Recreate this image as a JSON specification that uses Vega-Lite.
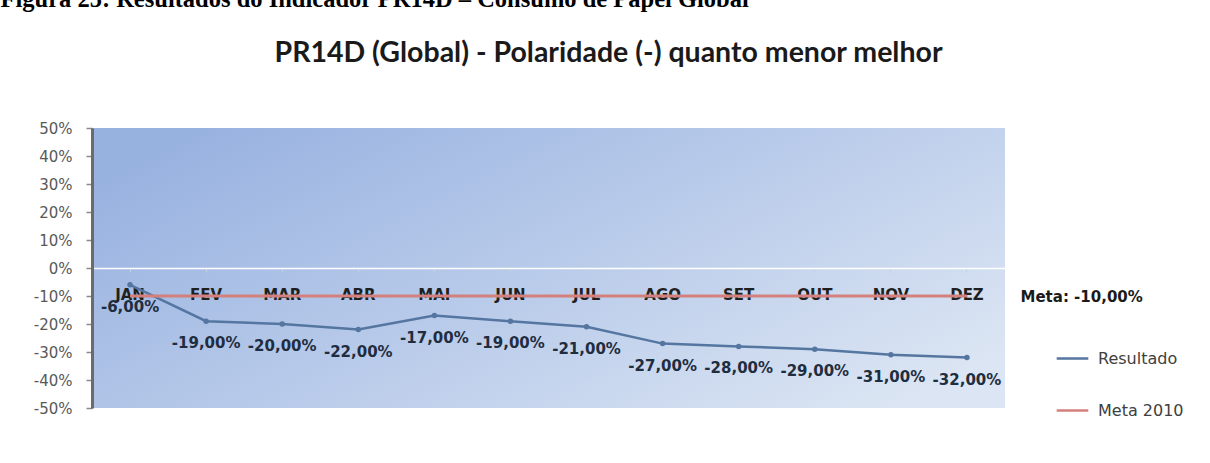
{
  "$schema": "https://vega.github.io/schema/vega-lite/v6.json",
  "width": 913,
  "height": 280,
  "autosize": {"type": "none"},
  "padding": {"left": 92, "top": 128, "right": 205, "bottom": 55},
  "background": "white",
  "title": {
    "text": "PR14D (Global) - Polaridade (-) quanto menor melhor",
    "font": "Lato",
    "fontSize": 28.5,
    "fontWeight": "bold",
    "color": "#1a1a1a",
    "anchor": "middle",
    "frame": "group",
    "baseline": "alphabetic",
    "dx": 60,
    "dy": 104,
    "offset": 0
  },
  "config": {
    "locale": {"number": {"decimal": ",", "thousands": ".", "grouping": [3], "currency": ["R$ ", ""], "minus": "-"}},
    "view": {"stroke": null}
  },
  "view": {
    "stroke": null,
    "fill": {
      "gradient": "linear",
      "x1": 0, "y1": 0.2, "x2": 1, "y2": 0.8,
      "stops": [
        {"offset": 0, "color": "#98b2e0"},
        {"offset": 0.5, "color": "#b9cbea"},
        {"offset": 1, "color": "#dbe5f3"}
      ]
    }
  },
  "data": {
    "values": [
      {"mes": "JAN", "resultado": -0.06, "meta": -0.10},
      {"mes": "FEV", "resultado": -0.19, "meta": -0.10},
      {"mes": "MAR", "resultado": -0.20, "meta": -0.10},
      {"mes": "ABR", "resultado": -0.22, "meta": -0.10},
      {"mes": "MAI", "resultado": -0.17, "meta": -0.10},
      {"mes": "JUN", "resultado": -0.19, "meta": -0.10},
      {"mes": "JUL", "resultado": -0.21, "meta": -0.10},
      {"mes": "AGO", "resultado": -0.27, "meta": -0.10},
      {"mes": "SET", "resultado": -0.28, "meta": -0.10},
      {"mes": "OUT", "resultado": -0.29, "meta": -0.10},
      {"mes": "NOV", "resultado": -0.31, "meta": -0.10},
      {"mes": "DEZ", "resultado": -0.32, "meta": -0.10}
    ]
  },
  "encoding": {
    "x": {
      "field": "mes",
      "type": "ordinal",
      "sort": null,
      "scale": {"type": "band", "paddingInner": 0, "paddingOuter": 0},
      "axis": {
        "orient": "bottom",
        "offset": -140,
        "title": "Figura 25: Resultados do Indicador PR14D – Consumo de Papel Global",
        "titleX": -92,
        "titleY": -262,
        "titleAlign": "left",
        "titleAnchor": null,
        "titleBaseline": "alphabetic",
        "titleFont": "Liberation Serif",
        "titleFontSize": 24.5,
        "titleFontWeight": "bold",
        "titleColor": "#000000",
        "labelAngle": 0,
        "labelFont": "DejaVu Sans",
        "labelFontSize": 15,
        "labelFontWeight": "bold",
        "labelColor": "#1f1f1f",
        "labelPadding": 15,
        "labelBound": false,
        "domainColor": "#ffffff",
        "domainWidth": 1.5,
        "tickColor": "#c3cfe3",
        "tickSize": 4,
        "grid": false
      }
    }
  },
  "layer": [
    {
      "mark": {"type": "line", "strokeWidth": 2.5},
      "encoding": {
        "y": {
          "field": "resultado",
          "type": "quantitative",
          "scale": {"domain": [-0.5, 0.5], "nice": false, "zero": false},
          "axis": {
            "orient": "left",
            "values": [-0.5, -0.4, -0.3, -0.2, -0.1, 0, 0.1, 0.2, 0.3, 0.4, 0.5],
            "format": ".0%",
            "title": null,
            "grid": false,
            "domainColor": "#6b6b6b",
            "domainWidth": 3,
            "tickColor": "#8a8a8a",
            "tickSize": 6,
            "tickWidth": 1.5,
            "labelFont": "DejaVu Sans",
            "labelFontSize": 15,
            "labelColor": "#595959",
            "labelPadding": 14
          }
        },
        "color": {
          "datum": "Resultado",
          "type": "nominal",
          "scale": {"domain": ["Resultado", "Meta 2010"], "range": ["#5476a0", "#d4807c"]},
          "legend": {
            "orient": "none",
            "legendX": 963,
            "legendY": 213,
            "title": null,
            "symbolType": "stroke",
            "symbolSize": 1000,
            "symbolStrokeWidth": 2.5,
            "labelFont": "DejaVu Sans",
            "labelFontSize": 16,
            "labelColor": "#404040",
            "rowPadding": 26,
            "labelOffset": 8
          }
        }
      }
    },
    {
      "mark": {"type": "point", "filled": true, "size": 30, "opacity": 1, "color": "#5476a0"},
      "encoding": {
        "y": {"field": "resultado", "type": "quantitative", "scale": {"domain": [-0.5, 0.5], "nice": false, "zero": false}, "axis": null}
      }
    },
    {
      "mark": {"type": "text", "dy": 22, "font": "DejaVu Sans", "fontSize": 15, "fontWeight": "bold", "color": "#1f2d40"},
      "encoding": {
        "y": {"field": "resultado", "type": "quantitative", "scale": {"domain": [-0.5, 0.5], "nice": false, "zero": false}, "axis": null},
        "text": {"field": "resultado", "format": ".2%"}
      }
    },
    {
      "mark": {"type": "line", "strokeWidth": 3},
      "encoding": {
        "y": {
          "field": "meta",
          "type": "quantitative",
          "scale": {"domain": [-0.5, 0.5], "nice": false, "zero": false},
          "axis": {
            "orient": "right",
            "values": [-0.1],
            "labelExpr": "'Meta: -10,00%'",
            "title": null,
            "domain": false,
            "ticks": false,
            "grid": false,
            "labelFont": "DejaVu Sans",
            "labelFontSize": 15,
            "labelFontWeight": "bold",
            "labelColor": "#1a1a1a",
            "labelPadding": 15
          }
        },
        "color": {"datum": "Meta 2010", "type": "nominal"}
      }
    }
  ],
  "resolve": {"scale": {"y": "independent"}}
}
